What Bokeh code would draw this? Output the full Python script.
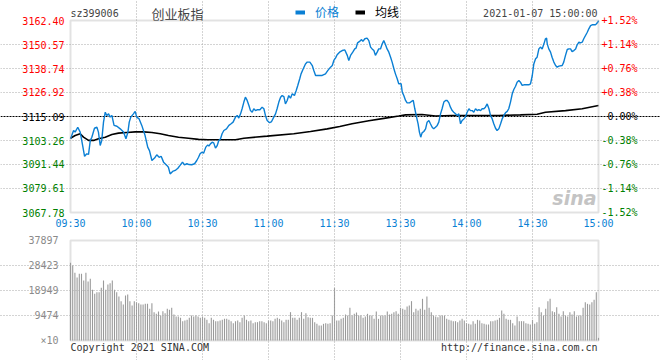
from bokeh.plotting import figure
from bokeh.models import (ColumnDataSource, FixedTicker, LinearAxis, Grid, Label,
                          Legend, LegendItem, Range1d, BoxAnnotation)
from bokeh.layouts import column
from bokeh.embed import file_html
from bokeh.resources import INLINE
from bokeh.core.properties import value

# ---------------- data ----------------
code = "sz399006"
name = "创业板指"
stamp = "2021-01-07 15:00:00"
prev_close = 3115.09

price_ticks = [3067.78, 3079.61, 3091.44, 3103.26, 3115.09, 3126.92, 3138.74, 3150.57, 3162.40]
price_tick_labels = ["3067.78", "3079.61", "3091.44", "3103.26", "3115.09",
                     "3126.92", "3138.74", "3150.57", "3162.40"]
pct_tick_labels = ["-1.52%", "-1.14%", "-0.76%", "-0.38%", "0.00%",
                   "+0.38%", "+0.76%", "+1.14%", "+1.52%"]

time_tick_minutes = [0, 30, 60, 90, 120, 150, 180, 210, 240]
time_tick_labels = ["09:30", "10:00", "10:30", "11:00", "11:30",
                    "13:30", "14:00", "14:30", "15:00"]

# price line: minutes since open (lunch break removed), index level
price_t = [0, 1.4, 2.1, 3.3, 4.4, 5.1, 6.4, 7.4, 8.2, 9.0, 9.7, 10.9, 12.0, 12.7, 13.5,
           14.2, 15.0, 15.8, 16.5, 17.3, 18.0, 18.8, 19.8, 21.1, 22.6, 24.1, 25.2, 26.1,
           26.7, 27.4, 28.6, 29.4, 30.1, 31.2, 32.4, 33.9, 35.1, 35.9, 37.0, 38.2, 39.2,
           40.3, 41.2, 42.3, 43.8, 44.5, 45.3, 46.4, 47.6, 48.8, 49.8, 50.9, 51.8, 52.9,
           53.9, 55.1, 56.4, 57.4, 58.2, 58.9, 59.7, 60.5, 61.5, 62.4,
           62.9, 63.6, 64.4, 65.1, 65.9, 66.7, 67.4, 68.2, 68.9, 69.7, 70.9, 72.0, 73.0,
           73.9, 75.0, 75.8, 76.5, 77.3, 78.0, 78.8, 79.5, 80.3, 81.1, 81.8, 82.6, 83.3,
           84.1, 84.8, 86.1, 87.1, 87.9, 88.6, 89.4, 90.5, 91.4, 92.4, 93.2, 93.9, 94.7,
           95.5, 96.2, 97.0, 97.7, 98.5, 99.2, 100.0, 100.8, 101.8, 102.6, 103.3, 104.2,
           104.8, 105.8, 106.8, 107.6, 108.8, 109.9, 110.6, 111.4, 112.9, 114.4, 115.9,
           117.0, 118.2, 119.0, 119.7,
           120.5, 121.2, 122.3, 123.5, 124.7, 125.8, 126.5, 127.3, 128.3, 129.2, 129.8,
           130.5, 131.4, 132.3, 132.9, 133.8, 134.8, 135.6, 136.4, 137.1, 137.9, 138.6,
           139.4, 140.1, 140.9, 141.7, 142.4, 143.2, 143.9, 144.7, 145.5, 146.2, 147.0,
           147.7, 148.5, 149.2, 150.3, 150.8, 151.5, 152.3, 153.0, 154.1, 155.0, 155.8,
           156.5, 157.3, 158.0, 158.6, 159.2, 159.8, 160.6, 161.4, 162.1, 162.9, 163.6,
           164.4, 165.1, 165.9, 166.7, 167.4, 168.2, 168.9, 169.7, 170.5, 171.2, 172.0,
           172.7, 173.5, 174.2, 175.0, 175.8, 176.5, 177.3, 178.0, 178.8, 179.5, 180.3,
           181.1, 181.8, 182.6, 183.3,
           184.1, 184.9, 185.6, 186.4, 187.1, 187.9, 188.6, 189.4, 190.2, 190.9, 191.7,
           192.4, 193.2, 193.9, 194.7, 195.5, 196.2, 197.0, 197.7, 198.5, 199.2, 200.0,
           200.8, 201.5, 202.3, 203.0, 203.8, 204.5, 205.3, 206.1, 206.8, 208.3, 209.1,
           209.9, 210.6, 211.4, 212.1, 212.9, 213.6, 214.4, 215.2, 215.9, 216.4, 216.7,
           217.4, 218.2, 218.9, 219.7, 220.5, 221.2, 222.0, 223.5, 224.2, 225.0, 225.8,
           226.5, 227.3, 228.0, 228.8, 229.6, 230.3, 231.1, 231.8, 232.6, 233.3, 234.1,
           234.9, 235.6, 236.4, 237.1, 238.6, 239.1, 239.9, 240.0]
price_v = [3104.1, 3108.2, 3107.4, 3109.8, 3107.4, 3103.3, 3095.5, 3096.7, 3096.4, 3103.3,
           3104.9, 3109.3, 3109.8, 3107.4, 3100.8, 3103.3, 3112.3, 3117.2, 3115.6, 3116.4,
           3114.8, 3115.6, 3110.7, 3110.3, 3109.0, 3107.4, 3104.1, 3107.4, 3112.3, 3114.8,
           3116.4, 3117.6, 3114.8, 3113.9, 3110.7, 3105.7, 3100.0, 3098.3, 3093.4, 3094.6,
           3096.2, 3095.0, 3095.5, 3092.6, 3091.0, 3090.1, 3086.8, 3088.0, 3088.5, 3089.6,
           3091.0, 3092.6, 3091.3, 3091.8, 3091.4, 3091.3, 3091.8, 3093.4, 3095.0, 3096.7,
           3097.5, 3097.0, 3100.0, 3101.1,
           3100.5, 3101.6, 3102.4, 3102.1, 3099.5, 3100.8, 3103.3, 3104.1, 3106.6, 3108.2,
           3109.0, 3110.7, 3111.5, 3112.3, 3114.8, 3115.6, 3114.3, 3116.4, 3118.9, 3122.2,
           3124.6, 3123.0, 3120.5, 3118.0, 3117.2, 3118.9, 3118.0, 3118.4, 3118.4, 3119.7,
           3118.9, 3115.6, 3113.1, 3112.0, 3112.6, 3114.8, 3116.4, 3118.9, 3122.2, 3124.6,
           3125.4, 3124.9, 3121.3, 3123.0, 3125.4, 3124.1, 3126.3, 3125.4, 3127.9, 3130.4,
           3133.7, 3136.1, 3138.6, 3141.0, 3141.9, 3141.9, 3140.2, 3137.8, 3135.3, 3135.3,
           3135.3, 3136.1, 3137.8, 3139.4, 3140.2, 3142.7,
           3144.0, 3145.5, 3146.8, 3147.6, 3147.9, 3145.2, 3142.7, 3145.2, 3146.8, 3148.4,
           3148.8, 3151.4, 3152.1, 3153.0, 3152.1, 3153.4, 3153.7, 3152.5, 3149.3, 3148.4,
           3147.6, 3145.2, 3146.8, 3148.4, 3148.4, 3150.9, 3152.5, 3150.4, 3148.4, 3146.8,
           3144.3, 3141.9, 3138.6, 3136.1, 3133.7, 3131.2, 3131.2, 3127.1, 3125.4, 3123.0,
           3121.8, 3121.8, 3122.5, 3123.0, 3118.9, 3114.8, 3111.5, 3107.4, 3104.9, 3107.0,
           3107.7, 3109.0, 3112.3, 3113.1, 3111.5, 3109.8, 3109.0, 3109.8, 3110.7, 3112.3,
           3116.4, 3118.9, 3122.2, 3123.0, 3123.0, 3121.8, 3119.7, 3118.0, 3117.2, 3116.4,
           3115.6, 3116.4, 3111.5, 3113.1, 3113.9, 3114.8, 3117.2, 3118.9, 3118.0, 3118.0,
           3117.2,
           3118.9, 3118.0, 3118.5, 3118.0, 3118.9, 3118.9, 3119.7, 3121.3, 3118.9, 3115.6,
           3113.9, 3111.5, 3109.3, 3108.2, 3109.0, 3111.5, 3113.9, 3115.6, 3116.9, 3117.6,
           3118.9, 3122.2, 3126.3, 3128.4, 3130.0, 3132.0, 3132.8, 3132.0, 3130.4, 3130.7,
           3130.7, 3130.7, 3131.2, 3135.3, 3141.0, 3143.5, 3144.3, 3148.4, 3149.3, 3148.4,
           3150.9, 3153.4, 3153.7, 3150.9, 3148.4, 3146.8, 3144.3, 3141.9, 3140.2, 3139.4,
           3139.9, 3140.2, 3141.9, 3145.2, 3148.1, 3148.4, 3148.4, 3147.1, 3147.6, 3148.4,
           3150.4, 3151.7, 3151.4, 3151.7, 3153.4, 3155.0, 3156.6, 3158.3, 3159.9, 3160.3,
           3160.3, 3160.8, 3161.9, 3162.4]

avg_t = [0, 2.1, 4.4, 5.9, 8.2, 10.5, 12.7, 15.8, 18.8, 21.8, 25.6, 29.4, 33.2, 37.0,
         40.8, 44.5, 49.1, 53.6, 58.2, 62.4, 75.0, 78.8, 89.4, 101.5, 109.1, 116.7, 122.4,
         128.0, 135.6, 143.2, 149.2, 152.3, 159.8, 165.9, 173.5, 183.3, 194.7, 204.5,
         212.1, 215.9, 225.0, 232.6, 240.0]
avg_v = [3104.4, 3105.7, 3106.6, 3104.9, 3103.3, 3103.3, 3104.1, 3104.9, 3106.2, 3106.9,
         3107.2, 3107.5, 3107.5, 3107.2, 3106.6, 3105.7, 3104.9, 3104.4, 3103.8, 3103.6,
         3103.6, 3104.4, 3105.4, 3106.6, 3107.7, 3109.0, 3110.2, 3111.5, 3113.0, 3114.3,
         3115.3, 3115.9, 3116.1, 3115.3, 3115.6, 3115.6, 3115.6, 3115.9, 3116.2, 3117.2,
         3118.0, 3118.9, 3120.5]

volume_ticks = [0, 9474, 18949, 28423, 37897]
volume_tick_labels = ["×10", "9474", "18949", "28423", "37897"]
volumes = [
    29430, 28420, 25640, 23880, 25270, 25270, 22740, 25640, 22360, 23370,
    19200, 17690, 18320, 18320, 19960, 22740, 19200, 21220, 21730, 22740,
    19200, 18320, 16680, 14910, 13640, 17060, 17430, 14910, 13270, 14910,
    14530, 14150, 13640, 13640, 13900, 13900, 12000, 14150, 10740, 10110,
    10990, 9480, 11120, 10360, 12000, 11620, 12380, 9850, 9100, 9100,
    8590, 7330, 7580, 7830, 8590, 9480, 9100, 9480, 9100, 8590,
    9100, 8590, 7830, 6570, 8590, 7830, 7330, 7330, 7580, 7830,
    8210, 8210, 7830, 7330, 6570, 7330, 7580, 6950, 8590, 9480,
    7830, 7330, 7580, 6570, 6950, 6950, 7330, 7330, 6950, 6570,
    7580, 7580, 7330, 8210, 8590, 8210, 7580, 6950, 7830, 7830,
    10740, 8590, 8590, 7830, 8590, 10740, 8210, 10360, 8840, 8590,
    8590, 6950, 6320, 5690, 5690, 6320, 6570, 6320, 6570,
    9480, 19960, 7580, 7580, 8210, 8590, 9850, 9480, 12380, 9480,
    10110, 10610, 9480, 9480, 8590, 9100, 10110, 9480, 9480, 8210,
    10990, 8210, 9480, 9480, 9480, 10990, 9850, 10110, 10740, 11120,
    10110, 12380, 12000, 11620, 12890, 13270, 14910, 10740, 12000, 11370,
    12000, 15790, 11620, 16680, 12380, 10740, 9480, 9100, 8840, 9480,
    9480, 9480, 8210, 7830, 7580, 7330, 7330, 6950, 7580, 8210,
    7580, 6570, 6320, 6070, 7330, 6320, 7830, 7580, 6570, 6320,
    6070, 6070, 7330, 7330, 7580, 7830, 8590, 11370, 10110, 8210,
    7830, 7830, 6570, 5690, 9100, 7330, 7330, 7330, 6570, 6320,
    6070, 7830, 6320, 6950, 12630, 10740, 9480, 12000, 14910, 15790,
    11120, 10740, 12630, 10110, 9100, 11120, 9480, 9100, 10740, 9850,
    11120, 9100, 9480, 9480, 12380, 14530, 13900, 13640, 14530, 15410,
    18320, 1010]
volume_minute = list(range(len(volumes)))

# ---------------- style / layout ----------------
MONO = "DejaVu Sans Mono"
CJK = "Noto Sans CJK SC"
BLUE = "#0a7fd4"
RED = "#ff0000"
GREEN = "#008000"
GRID = "#a8a8a8"
FRAME = "#a0a0a0"

W = 660
PAD_L, PAD_R = 70, 62                # plot box inside the canvas
X_PX = (W - PAD_L - PAD_R) / 240.0   # pixels per minute
x_lo = time_tick_minutes[0] - PAD_L / X_PX
x_hi = time_tick_minutes[-1] + PAD_R / X_PX

def tick_color(v):
    if abs(v - prev_close) < 1e-6:
        return "#000000"
    return RED if v > prev_close else GREEN

def dotted_grid(fig, dim, ticks, bounds, color=GRID, dash="1 2", level="underlay"):
    g = Grid(dimension=dim, ticker=FixedTicker(ticks=ticks), bounds=bounds,
             grid_line_color=color, grid_line_dash=dash, grid_line_width=1, level=level)
    fig.add_layout(g, "center")

# ---------------- price panel ----------------
H1, TOP1, BOT1 = 230, 20, 18
P_PX = (H1 - TOP1 - BOT1) / (price_ticks[-1] - price_ticks[0])
p_lo = price_ticks[0] - BOT1 / P_PX
p_hi = price_ticks[-1] + TOP1 / P_PX

p = figure(width=W, height=H1, x_range=Range1d(x_lo, x_hi), y_range=Range1d(p_lo, p_hi),
           output_backend="svg", toolbar_location=None,
           x_axis_location=None, y_axis_location=None, min_border=0)
p.min_border_left = p.min_border_right = p.min_border_top = p.min_border_bottom = 0
p.background_fill_color = "white"
p.border_fill_color = "white"
p.outline_line_color = None
p.grid.visible = False

t0, t1 = time_tick_minutes[0], time_tick_minutes[-1]
dotted_grid(p, 0, time_tick_minutes[1:-1], (price_ticks[0], price_ticks[-1]))
dotted_grid(p, 1, [t for t in price_ticks[1:-1] if t != prev_close], (t0, t1))
dotted_grid(p, 1, [prev_close], (t0, t1), color="black", dash="2 1")

p.add_layout(BoxAnnotation(left=t0, right=t1, bottom=price_ticks[0], top=price_ticks[-1],
                           fill_alpha=0, line_color=FRAME, line_width=2, level="overlay"))

avg_r = p.line(avg_t, avg_v, line_color="black", line_width=1.6)
price_r = p.line(price_t, price_v, line_color=BLUE, line_width=1.4)

# tick labels drawn through the data scales
lab_src = ColumnDataSource(dict(x0=[t0] * len(price_ticks), x1=[t1] * len(price_ticks),
                                y=price_ticks, left=price_tick_labels, right=pct_tick_labels,
                                color=[tick_color(v) for v in price_ticks]))
p.text(x="x0", y="y", text="left", source=lab_src, x_offset=-6, text_align="right",
       text_baseline="middle", text_color="color", text_font=value(MONO),
       text_font_size="10px")
p.text(x="x1", y="y", text="right", source=lab_src, x_offset=39, text_align="right",
       text_baseline="middle", text_color="color", text_font=value(MONO),
       text_font_size="10px")
time_src = ColumnDataSource(dict(x=time_tick_minutes, y=[price_ticks[0]] * len(time_tick_minutes),
                                 text=time_tick_labels))
p.text(x="x", y="y", text="text", source=time_src, y_offset=11, text_align="center",
       text_baseline="middle", text_color=BLUE, text_font=value(MONO),
       text_font_size="10px")

# header (screen units, origin at bottom-left of canvas)
HY = H1 - 13
p.add_layout(Label(x=PAD_L, y=HY, x_units="screen", y_units="screen", text=code,
                   text_font=MONO, text_font_size="10px", text_baseline="middle"))
p.add_layout(Label(x=177, y=HY, x_units="screen", y_units="screen", text=name,
                   text_font=CJK, text_font_size="13px", text_baseline="middle",
                   text_align="center"))
p.add_layout(Label(x=W - PAD_R - 1, y=HY, x_units="screen", y_units="screen", text=stamp,
                   text_font=MONO, text_font_size="10px", text_baseline="middle",
                   text_align="right"))

# legend swatches: one-point proxies (NaN, never drawn in the plot area)
nan = float("nan")
leg_price = p.line([nan], [nan], line_color=BLUE, line_width=4)
leg_avg = p.line([nan], [nan], line_color="black", line_width=4)
for rend, lab, col, lx in ((leg_price, "价格", BLUE, 295), (leg_avg, "均线", "black", 355)):
    lg = Legend(items=[LegendItem(label=lab, renderers=[rend])], location=(lx, H1 - 20),
                orientation="horizontal", glyph_width=10, glyph_height=14,
                label_standoff=10, padding=0, margin=0, spacing=0,
                background_fill_alpha=0, border_line_color=None,
                label_text_font=CJK, label_text_font_size="12px",
                label_text_color=col, label_height=14)
    p.add_layout(lg)

# watermark
p.add_layout(Label(x=596, y=BOT1 + 4, x_units="screen", y_units="screen", text="sina",
                   text_font="DejaVu Sans", text_font_size="19px",
                   text_font_style="bold italic", text_align="right",
                   text_color="#c4c4c4"))

# ---------------- volume panel ----------------
H2, TOP2, BOT2 = 130, 10, 20
V_PX = (H2 - TOP2 - BOT2) / (volume_ticks[-1] - volume_ticks[0])
v_lo = volume_ticks[0] - BOT2 / V_PX
v_hi = volume_ticks[-1] + TOP2 / V_PX

v = figure(width=W, height=H2, x_range=Range1d(x_lo, x_hi), y_range=Range1d(v_lo, v_hi),
           output_backend="svg", toolbar_location=None,
           x_axis_location=None, y_axis_location=None, min_border=0)
v.min_border_left = v.min_border_right = v.min_border_top = v.min_border_bottom = 0
v.background_fill_color = "white"
v.border_fill_color = "white"
v.outline_line_color = None
v.grid.visible = False

v.vbar(x=volume_minute, top=volumes, width=0.5, bottom=0,
       fill_color="#9a9a9a", line_color=None)

dotted_grid(v, 0, time_tick_minutes[1:-1], (volume_ticks[0], volume_ticks[-1]), level="overlay")
dotted_grid(v, 1, volume_ticks[1:-1], (t0, t1), level="overlay")
v.add_layout(BoxAnnotation(left=t0, right=t1, bottom=volume_ticks[0], top=volume_ticks[-1],
                           fill_alpha=0, line_color=FRAME, line_width=2, level="overlay"))

ya = LinearAxis(fixed_location=t0, ticker=FixedTicker(ticks=volume_ticks),
                major_label_overrides={t: l for t, l in zip(volume_ticks, volume_tick_labels)},
                axis_line_color=None, major_tick_line_color=None, minor_tick_line_color=None,
                major_label_text_color="#8a8a8a", major_label_text_font=MONO,
                major_label_text_font_size="10px", major_label_standoff=6)
v.add_layout(ya, "left")

v.add_layout(Label(x=PAD_L, y=13, x_units="screen", y_units="screen",
                   text="Copyright 2021 SINA.COM", text_font=MONO, text_font_size="10px",
                   text_baseline="middle", text_color="#333333"))
v.add_layout(Label(x=W - PAD_R - 1, y=13, x_units="screen", y_units="screen",
                   text="http://finance.sina.com.cn", text_font=MONO, text_font_size="10px",
                   text_baseline="middle", text_align="right", text_color="#333333"))

layout = column(p, v, spacing=0)
open("out.html", "w").write(file_html(layout, INLINE))
